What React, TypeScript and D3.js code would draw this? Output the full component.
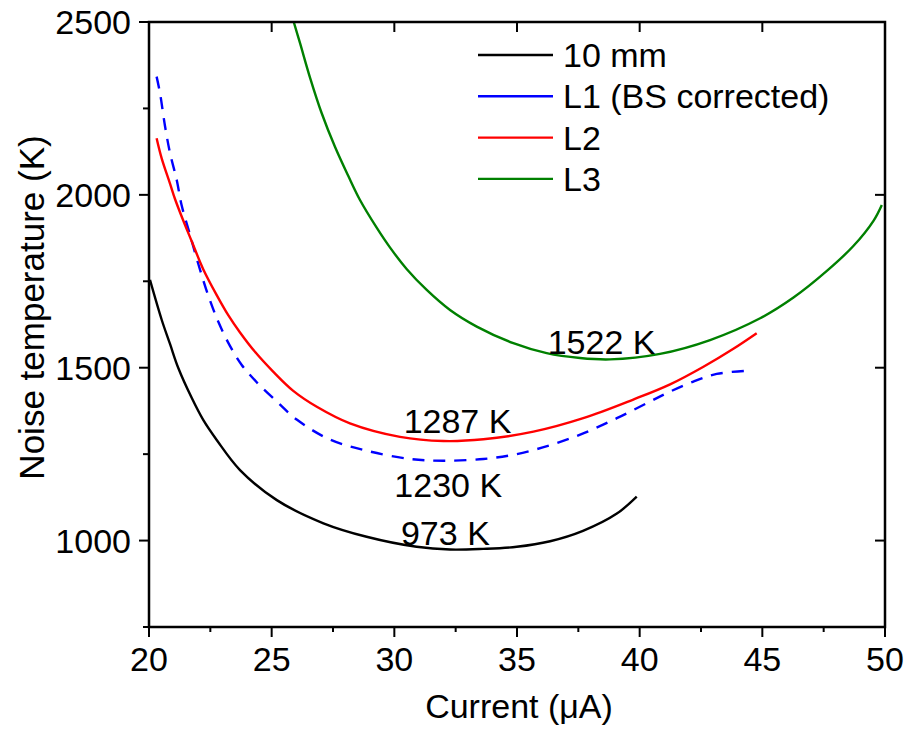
import React from 'react';
import * as d3 from 'd3';

// values
const mm10 = [
  [20.04, 1754], [20.52, 1638], [20.86, 1568], [21.19, 1500], [21.74, 1413],
  [22.21, 1349], [22.76, 1291], [23.71, 1204], [25.21, 1117], [27.11, 1050],
  [28.87, 1011], [30.91, 982], [32.27, 974], [33.62, 976], [34.99, 982],
  [36.35, 998], [37.69, 1028], [39.07, 1078], [39.88, 1127],
];
const l1 = [
  [20.31, 2342], [20.45, 2294], [20.65, 2200], [20.86, 2120], [21.13, 2043],
  [21.33, 1970], [21.67, 1885], [22.01, 1800], [22.42, 1708], [22.83, 1632],
  [23.3, 1563], [23.78, 1508], [24.39, 1458], [25.21, 1402], [26.02, 1350],
  [27.38, 1292], [28.87, 1260], [30.64, 1236], [32.0, 1231], [33.63, 1236],
  [34.99, 1250], [36.35, 1276], [37.7, 1310], [39.07, 1354], [40.42, 1402],
  [41.24, 1431], [42.19, 1460], [43.14, 1482], [44.34, 1491],
];
const l2 = [
  [20.31, 2164], [20.52, 2105], [20.86, 2032], [21.06, 1988], [21.4, 1925],
  [21.74, 1866], [22.21, 1785], [22.76, 1710], [23.23, 1652], [23.71, 1602],
  [24.32, 1546], [25.07, 1488], [25.88, 1433], [26.84, 1387], [28.19, 1339],
  [30.23, 1300], [32.0, 1288], [33.63, 1293], [35.67, 1315], [37.7, 1354],
  [39.74, 1408], [41.24, 1452], [42.6, 1503], [43.82, 1555], [44.77, 1600],
];
const l3 = [
  [25.9, 2500], [26.16, 2438], [26.56, 2340], [27.04, 2236], [27.58, 2139],
  [28.12, 2055], [28.6, 1985], [29.28, 1905], [29.82, 1848], [30.51, 1785],
  [31.32, 1725], [32.27, 1667], [33.36, 1619], [34.85, 1571], [36.21, 1542],
  [37.57, 1528], [38.79, 1524], [40.83, 1540], [42.87, 1580], [44.91, 1643],
  [46.27, 1703], [47.63, 1780], [48.71, 1852], [49.53, 1925], [49.87, 1971],
];

const series = [
  { name: '10 mm', data: mm10, color: '#000000', dash: null },
  { name: 'L1 (BS corrected)', data: l1, color: '#0000ff', dash: '12 9' },
  { name: 'L2', data: l2, color: '#ff0000', dash: null },
  { name: 'L3', data: l3, color: '#008000', dash: null },
];

const minima = [
  { label: '1522 K', x: 36.25, y: 1540 },
  { label: '1287 K', x: 30.38, y: 1310 },
  { label: '1230 K', x: 30.0, y: 1127 },
  { label: '973 K', x: 30.27, y: 986 },
];

const xMajor = [20, 25, 30, 35, 40, 45, 50];
const xMinor = [22.5, 27.5, 32.5, 37.5, 42.5, 47.5];
const yMajor = [1000, 1500, 2000, 2500];
const yMinor = [750, 1250, 1750, 2250];

const W = 905;
const H = 729;
const font = '"Liberation Sans", Arial, sans-serif';
const fs = 34;

export default function App() {
  const x = d3.scaleLinear().domain([20, 50]).range([149, 885]);
  const y = d3.scaleLinear().domain([750, 2500]).range([627, 22]);
  const line = d3
    .line<number[]>()
    .x((d) => x(d[0]))
    .y((d) => y(d[1]))
    .curve(d3.curveCatmullRom.alpha(0.5));

  const [x0, x1] = x.range();
  const [y0, y1] = y.range();

  return (
    <svg
      width={W}
      height={H}
      style={{ position: 'absolute', left: 0, top: 0, background: '#fff' }}
      fontFamily={font}
    >
      <defs>
        <clipPath id="plot">
          <rect x={x0} y={y1} width={x1 - x0} height={y0 - y1} />
        </clipPath>
      </defs>

      {/* curves */}
      <g clipPath="url(#plot)">
        {series.map((s) => (
          <path
            key={s.name}
            d={line(s.data) || ''}
            fill="none"
            stroke={s.color}
            strokeWidth={2.4}
            strokeDasharray={s.dash || undefined}
          />
        ))}
      </g>

      {/* frame */}
      <rect x={x0} y={y1} width={x1 - x0} height={y0 - y1} fill="none" stroke="#000" strokeWidth={2.5} />

      {/* bottom + top ticks */}
      {xMajor.map((v) => (
        <g key={'xm' + v}>
          <line x1={x(v)} x2={x(v)} y1={y0} y2={y0 + 10} stroke="#000" strokeWidth={2} />
          <line x1={x(v)} x2={x(v)} y1={y1} y2={y1 + 10} stroke="#000" strokeWidth={2} />
          <text x={x(v)} y={671} fontSize={fs} textAnchor="middle">{v}</text>
        </g>
      ))}
      {xMinor.map((v) => (
        <line key={'xn' + v} x1={x(v)} x2={x(v)} y1={y0} y2={y0 + 5} stroke="#000" strokeWidth={2} />
      ))}

      {/* left + right ticks */}
      {yMajor.map((v) => (
        <g key={'ym' + v}>
          <line x1={x0 - 10} x2={x0} y1={y(v)} y2={y(v)} stroke="#000" strokeWidth={2} />
          <line x1={x1 - 10} x2={x1} y1={y(v)} y2={y(v)} stroke="#000" strokeWidth={2} />
          <text x={131} y={y(v) + 12} fontSize={fs} textAnchor="end">{v}</text>
        </g>
      ))}
      {yMinor.map((v) => (
        <line key={'yn' + v} x1={x0 - 6} x2={x0} y1={y(v)} y2={y(v)} stroke="#000" strokeWidth={2} />
      ))}

      {/* axis titles */}
      <text x={(x0 + x1) / 2 + 2} y={718} fontSize={fs} textAnchor="middle">Current (μA)</text>
      <text
        transform={`translate(44, ${(y0 + y1) / 2 - 17}) rotate(-90)`}
        fontSize={35}
        textAnchor="middle"
      >
        Noise temperature (K)
      </text>

      {/* minimum labels */}
      {minima.map((m) => (
        <text key={m.label} x={x(m.x)} y={y(m.y)} fontSize={fs}>{m.label}</text>
      ))}

      {/* legend */}
      {series.map((s, i) => {
        const ly = 55 + i * 41.3;
        return (
          <g key={'lg' + s.name}>
            <line x1={478} x2={553} y1={ly} y2={ly} stroke={s.color} strokeWidth={2.4} />
            <text x={563} y={ly + 12} fontSize={fs}>{s.name}</text>
          </g>
        );
      })}
    </svg>
  );
}
